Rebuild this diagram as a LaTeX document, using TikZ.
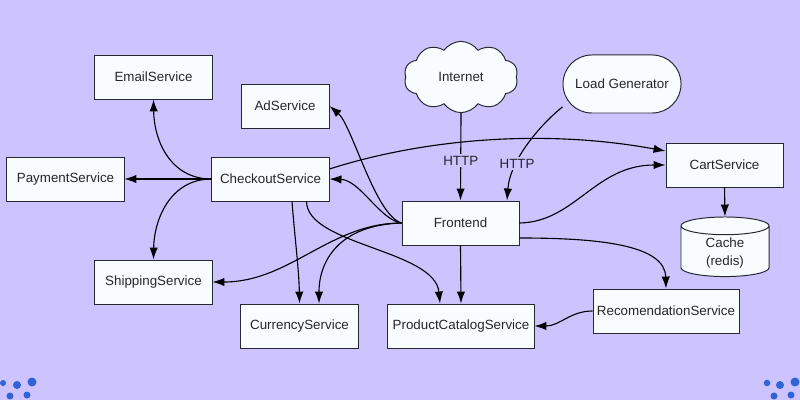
\documentclass[tikz,border=0pt]{standalone}
\usepackage{fontspec}
\setmainfont{Liberation Sans}
\usepackage{tikz}
\usetikzlibrary{shapes,shapes.geometric,shapes.symbols,arrows.meta,calc}

\definecolor{bg}{RGB}{205,196,255}
\definecolor{boxfill}{RGB}{248,252,255}
\definecolor{boxline}{RGB}{40,40,48}
\definecolor{dots}{RGB}{48,100,214}

\tikzset{
	svc/.style={draw=boxline, line width=0.7pt, fill=boxfill, text=black!85,
		minimum width=2.925cm, minimum height=1.1cm, inner sep=2pt,
		font=\fontsize{9.5}{12.5}\selectfont},
	link/.style={-{Latex[length=8.5pt,width=6pt]}, line width=0.8pt, black},
	proto/.style={fill=bg, inner sep=1.5pt, font=\fontsize{9.5}{12}\selectfont, text=black!85},
}

\begin{document}
\begin{tikzpicture}[x=0.025cm, y=-0.025cm]
		\fill[bg] (0,0) rectangle (800,400);
		\begin{scope}
			% services
			\node[svc] (email) at (153.5,77) {EmailService};
			\node[svc, minimum width=2.2cm] (ad) at (285,106) {AdService};
			\node[svc] (payment) at (65.5,179) {PaymentService};
			\node[svc] (checkout) at (270.5,179) {CheckoutService};
			\node[svc] (shipping) at (153.5,282) {ShippingService};
			\node[svc] (currency) at (299.5,326) {CurrencyService};
			\node[svc, minimum width=3.65cm] (catalog) at (461,326) {ProductCatalogService};
			\node[svc] (front) at (460.5,223) {Frontend};
			\node[svc] (cart) at (724.5,165) {CartService};
			\node[svc, minimum width=3.65cm] (recom) at (666,311) {RecomendationService};
			\node[svc, cylinder, shape border rotate=90, aspect=0.4, align=center,
				minimum width=2.2cm, minimum height=1.45cm] (cache) at (725,253) {Cache\\(redis)};
			\node[svc, cloud, cloud puffs=10, cloud puff arc=110, aspect=1.6,
				minimum width=2.85cm, minimum height=1.78cm] (internet) at (461,77) {Internet};
			\node[svc, rounded corners=0.72cm, minimum width=2.95cm, minimum height=1.45cm] (loadgen) at (622,84) {Load Generator};
		\end{scope}
		\begin{scope}
			% calls from checkout
			\draw[link] (checkout.west) -- (payment.east);
			\draw[link] (checkout.west) .. controls (170,179) and (154,140) .. (email.south);
			\draw[link] (checkout.west) .. controls (170,179) and (154,220) .. (shipping.north);
			\draw[link] ($(checkout.east)+(0,-10)$) .. controls (420,140) and (540,128) .. ($(cart.west)+(0,-14)$);
			\draw[link] ($(checkout.south)+(21.5,0)$) .. controls (295,240) and (299,270) .. (currency.north);
			\draw[link] ($(checkout.south)+(36,0)$) .. controls (307,245) and (435,250) .. ($(catalog.north)+(-21,0)$);
			% calls from frontend
			\draw[link] (front.west) .. controls (375,215) and (352,125) .. (ad.east);
			\draw[link] (front.west) .. controls (380,220) and (360,180) .. (checkout.east);
			\draw[link] (front.west) .. controls (330,223) and (290,282) .. (shipping.east);
			\draw[link] (front.west) .. controls (340,225) and (319,260) .. ($(currency.north)+(19.5,0)$);
			\draw[link] (front.south) -- (catalog.north);
			\draw[link] (front.east) .. controls (575,222) and (595,165) .. (cart.west);
			\draw[link] ($(front.east)+(0,15)$) .. controls (600,238) and (665,245) .. (recom.north);
			\draw[link] (recom.west) .. controls (570,311) and (560,326) .. (catalog.east);
			\draw[link] (cart.south) -- (cache.north);
			% incoming traffic
			\draw[link] (internet.south) -- node[proto, pos=0.545] {HTTP} (front.north);
			\draw[link] (loadgen.201) .. controls (540,125) and (510,160) .. node[proto, pos=0.68] {HTTP} ($(front.north)+(46.5,0)$);
		\end{scope}
		% corner dots
		\foreach \x/\y/\r in {3/383/3, 17/385/4, 32/382/4.5, 10/396/3.5, 27/395/3.5,
			767/383/3.3, 780/385/4, 795/382/4.5, 774/396/3.5, 791/395/3.5}
			\fill[dots] (\x,\y) circle[radius=\r];
	\end{tikzpicture}
\end{document}
